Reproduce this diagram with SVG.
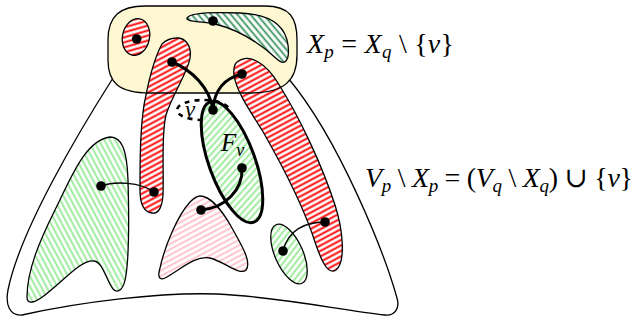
<svg xmlns="http://www.w3.org/2000/svg" width="635" height="321" viewBox="0 0 635 321">
<style>
.ol{stroke:#000;stroke-width:1.3;fill:none}
.sh{stroke:#000;stroke-width:1.3}
.thick{stroke:#000;stroke-width:3;fill:none;stroke-linecap:round}
.thin{stroke:#000;stroke-width:1.3;fill:none}
.dot{fill:#000}
.m{font-family:"Liberation Serif","DejaVu Serif",serif;fill:#000}
.i{font-style:italic}
</style>
<defs>
<pattern id="hRed" width="10" height="4.8" patternUnits="userSpaceOnUse" patternTransform="rotate(-28)">
<rect width="10" height="4.8" fill="#fff"/><line x1="0" y1="2.4" x2="10" y2="2.4" stroke="#ff0000" stroke-width="1.9"/>
</pattern>
<pattern id="hGreen" width="10" height="4.8" patternUnits="userSpaceOnUse" patternTransform="rotate(62)">
<rect width="10" height="4.8" fill="#fff"/><line x1="0" y1="2.4" x2="10" y2="2.4" stroke="#8ee88e" stroke-width="1.7"/>
</pattern>
<pattern id="hDark" width="10" height="5" patternUnits="userSpaceOnUse" patternTransform="rotate(50)">
<rect width="10" height="5" fill="#fff"/><line x1="0" y1="2.5" x2="10" y2="2.5" stroke="#2f8c55" stroke-width="1.7"/>
</pattern>
<pattern id="hPink" width="10" height="4.8" patternUnits="userSpaceOnUse" patternTransform="rotate(-28)">
<rect width="10" height="4.8" fill="#fff"/><line x1="0" y1="2.4" x2="10" y2="2.4" stroke="#ffb6c4" stroke-width="1.6"/>
</pattern>
</defs>

<g id="outer">
<path class="ol" d="M120,60 L113,78 C80,130 20,230 8,290 C5,305 10,316 22,315 C80,302 160,292 217,294 C280,297 340,310 385,315 C395,316 400,308 397,298 C385,255 340,140 288,78 L280,60 Z"/>
</g>

<g id="Xp-bag">
<path id="yellowfill" fill="#fdf8d2" d="M145,6 L265,6 C290,6 297,18 297,40 L297,55 C297,80 285,93 250,93 L150,93 C118,93 108,82 108,60 L108,40 C108,16 120,6 145,6 Z"/>
</g>

<g id="red-small">
<ellipse class="sh" fill="url(#hRed)" cx="136" cy="37" rx="13.5" ry="18.5" transform="rotate(12 136 37)"/>
</g>
<g id="green-top">
<path class="sh" fill="url(#hDark)" d="M187,18 C190,12 215,12 240,13 C265,14 285,22 288,45 C290,60 285,66 278,60 C262,45 240,30 215,24 C200,21 186,22 187,18 Z"/>
</g>
<g id="red-left">
<path class="sh" fill="url(#hRed)" d="M177,38 C185,38 192,45 190,58 C188,72 172,95 166,115 C161,135 164,170 163,195 C162,210 157,214 152,213 C144,212 140,204 140,190 C140,160 140,120 146,95 C150,75 156,55 162,44 C166,40 171,38 177,38 Z"/>
</g>
<g id="red-right">
<path class="sh" fill="url(#hRed)" d="M240,60 C250,55 265,62 278,83 C300,118 322,165 335,205 C343,230 346,262 336,270 C328,275 322,262 316,245 C305,210 285,170 262,130 C248,108 236,90 234,75 C233,67 235,62 240,60 Z"/>
</g>
<g id="Xp-outline">
<path class="ol" d="M145,6 L265,6 C290,6 297,18 297,40 L297,55 C297,80 285,93 250,93 L150,93 C118,93 108,82 108,60 L108,40 C108,16 120,6 145,6 Z"/>
</g>
<g id="green-left">
<path class="sh" fill="url(#hGreen)" d="M110,137 C122,137 127,150 128,180 C129,215 129,255 126,275 C124,290 118,294 113,289 C106,280 103,262 94,261 C80,260 65,280 45,295 C35,303 27,305 27,297 C27,270 40,240 55,210 C70,180 85,140 110,137 Z"/>
</g>
<g id="pink">
<path class="sh" fill="url(#hPink)" d="M200,196 C210,196 222,210 232,228 C242,246 252,262 246,270 C240,276 225,262 210,258 C195,255 180,270 165,278 C158,281 158,275 160,268 C165,245 178,215 190,202 C194,198 197,196 200,196 Z"/>
</g>
<g id="green-small">
<ellipse class="sh" fill="url(#hGreen)" cx="289" cy="254" rx="32" ry="14" transform="rotate(66 289 254)"/>
</g>
<g id="v">
<ellipse cx="203" cy="110" rx="26" ry="10" fill="none" stroke="#000" stroke-width="2.6" stroke-dasharray="5 5"/>
<text class="m i" x="185" y="117" font-family="Liberation Serif, DejaVu Serif, serif" font-size="23">v</text>
</g>
<g id="Fv">
<ellipse fill="url(#hGreen)" stroke="#000" stroke-width="3" cx="232" cy="162" rx="64" ry="23" transform="rotate(70 232 162)"/>
<text class="m" x="221" y="151" font-family="Liberation Serif, DejaVu Serif, serif" font-size="25"><tspan class="i">F</tspan><tspan class="i" font-size="18" dy="5">v</tspan></text>
</g>

<g id="connectors">
<path class="thick" d="M172,62 C192,70 210,88 213,110"/>
<path class="thick" d="M242,74 C225,78 214,90 213,110"/>
<path class="thick" d="M242,168 C243,190 225,208 201,210"/>
<path class="thin" d="M101,186 C115,181 140,182 154,192"/>
<path class="thin" d="M283,251 C288,230 305,222 325,222"/>
</g>
<g id="dots">
<circle class="dot" cx="136.7" cy="39" r="4.8"/>
<circle class="dot" cx="213" cy="21" r="4.8"/>
<circle class="dot" cx="172" cy="62" r="4.8"/>
<circle class="dot" cx="242" cy="74" r="4.8"/>
<circle class="dot" cx="213" cy="110" r="4.8"/>
<circle class="dot" cx="242" cy="168" r="4.8"/>
<circle class="dot" cx="201" cy="210" r="4.8"/>
<circle class="dot" cx="101" cy="186" r="4.8"/>
<circle class="dot" cx="154" cy="192" r="4.8"/>
<circle class="dot" cx="283" cy="251" r="4.8"/>
<circle class="dot" cx="325" cy="222" r="4.8"/>
</g>

<g id="labels">
<text class="m" x="307" y="53" font-family="Liberation Serif, DejaVu Serif, serif" font-size="28" textLength="147" lengthAdjust="spacing"><tspan class="i">X</tspan><tspan class="i" font-size="19" dy="5">p</tspan><tspan dy="-5"> = </tspan><tspan class="i">X</tspan><tspan class="i" font-size="19" dy="5">q</tspan><tspan dy="-5"> \ {</tspan><tspan class="i">v</tspan><tspan>}</tspan></text>
<text class="m" x="365" y="187" font-family="Liberation Serif, DejaVu Serif, serif" font-size="28" textLength="268" lengthAdjust="spacing"><tspan class="i">V</tspan><tspan class="i" font-size="19" dy="5">p</tspan><tspan dy="-5"> \ </tspan><tspan class="i">X</tspan><tspan class="i" font-size="19" dy="5">p</tspan><tspan dy="-5"> = (</tspan><tspan class="i">V</tspan><tspan class="i" font-size="19" dy="5">q</tspan><tspan dy="-5"> \ </tspan><tspan class="i">X</tspan><tspan class="i" font-size="19" dy="5">q</tspan><tspan dy="-5">) ∪ {</tspan><tspan class="i">v</tspan><tspan>}</tspan></text>
</g>
</svg>
